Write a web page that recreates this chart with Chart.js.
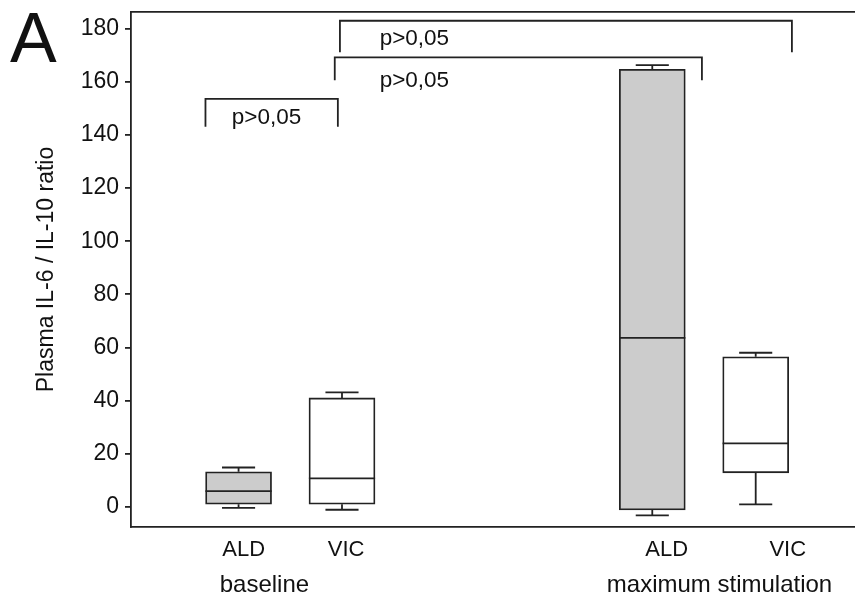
<!DOCTYPE html>
<html>
<head>
<meta charset="utf-8">
<script src="https://cdn.jsdelivr.net/npm/chart.js@4/dist/chart.umd.min.js"></script>
<style>
    html, body { margin: 0; padding: 0; background: #fff; }
</style>
</head>
<body>
<canvas id="chart" width="855" height="601"></canvas>
<script>
// box plot values
const cohorts = ["ALD", "VIC", "ALD", "VIC"];
const groups = ["baseline", "maximum stimulation"];
const boxPos = [1, 2, 5, 6];
const whiskerLow = [-0.4, -1.1, -3.2, 0.9];
const lowerQuartile = [1.0, 1.0, -1.2, 12.8];
const medians = [5.9, 10.7, 63.6, 23.9];
const upperQuartile = [13.2, 41.0, 164.7, 56.5];
const whiskerHigh = [14.8, 43.1, 166.3, 58.0];

// tick values
const cohortTicks = [1.05, 2.04, 5.14, 6.31];
const groupTicks = [1.25, 5.65];
const yTicks = [0, 20, 40, 60, 80, 100, 120, 140, 160, 180];

// significance brackets
const bracketFrom = [0.68, 1.93, 1.98];
const bracketTo = [1.96, 5.48, 6.35];
const bracketTop = [153.6, 169.2, 183.0];
const bracketFoot = [143.1, 160.6, 171.1];
const bracketText = ["p>0,05", "p>0,05", "p>0,05"];
const bracketTextX = [1.27, 2.70, 2.70];
const bracketTextY = [146.3, 160.4, 176.3];

const HALF_BOX = 0.32;
const HALF_CAP = 0.16;
const INK = "#222222";
const FONT = "'Liberation Sans', Arial, sans-serif";

const gap = x => ({ x: x, y: null });

const whiskerPoints = [];
const medianPoints = [];
boxPos.forEach((p, i) => {
    whiskerPoints.push(
        { x: p, y: upperQuartile[i] }, { x: p, y: whiskerHigh[i] }, gap(p),
        { x: p - HALF_CAP, y: whiskerHigh[i] }, { x: p + HALF_CAP, y: whiskerHigh[i] }, gap(p),
        { x: p, y: lowerQuartile[i] }, { x: p, y: whiskerLow[i] }, gap(p),
        { x: p - HALF_CAP, y: whiskerLow[i] }, { x: p + HALF_CAP, y: whiskerLow[i] }, gap(p)
    );
    medianPoints.push(
        { x: p - HALF_BOX, y: medians[i] }, { x: p + HALF_BOX, y: medians[i] }, gap(p)
    );
});

const bracketPoints = [];
bracketFrom.forEach((a, i) => {
    bracketPoints.push(
        { x: a, y: bracketFoot[i] },
        { x: a, y: bracketTop[i] },
        { x: bracketTo[i], y: bracketTop[i] },
        { x: bracketTo[i], y: bracketFoot[i] },
        gap(a)
    );
});

const lineStyle = {
    type: "line",
    borderColor: INK,
    borderWidth: 1.8,
    pointRadius: 0,
    fill: false,
    tension: 0,
    spanGaps: false,
    order: 0
};

const annotate = {
    id: "annotate",
    afterDatasetsDraw(chart) {
        const { ctx, scales } = chart;
        ctx.save();
        ctx.fillStyle = "#111";
        ctx.font = "22.5px " + FONT;
        ctx.textAlign = "center";
        ctx.textBaseline = "middle";
        bracketText.forEach((t, i) => {
            ctx.fillText(
                t,
                scales.x.getPixelForValue(bracketTextX[i]),
                scales.y.getPixelForValue(bracketTextY[i])
            );
        });
        ctx.font = "70px " + FONT;
        ctx.textAlign = "left";
        ctx.textBaseline = "alphabetic";
        ctx.fillText("A", 10, 62);
        ctx.restore();
    }
};

const xRange = { min: -0.04, max: 6.96 };

new Chart(document.getElementById("chart"), {
    type: "bar",
    data: {
        datasets: [
            {
                label: "box",
                data: boxPos.map((p, i) => ({ x: p, y: [lowerQuartile[i], upperQuartile[i]] })),
                backgroundColor: cohorts.map(c => c === "ALD" ? "#cccccc" : "#ffffff"),
                borderColor: INK,
                borderWidth: 1.8,
                borderSkipped: false,
                barThickness: 66,
                order: 1
            },
            Object.assign({ label: "whiskers", data: whiskerPoints }, lineStyle),
            Object.assign({ label: "medians", data: medianPoints }, lineStyle),
            Object.assign({ label: "brackets", data: bracketPoints }, lineStyle)
        ]
    },
    options: {
        responsive: false,
        animation: false,
        layout: { padding: 0 },
        plugins: {
            legend: { display: false },
            tooltip: { enabled: false }
        },
        scales: {
            x: {
                type: "linear",
                position: "bottom",
                min: xRange.min,
                max: xRange.max,
                offset: false,
                weight: 0,
                grid: { display: false, drawTicks: false, tickLength: 0, offset: false },
                border: { display: true, color: INK, width: 1.8 },
                afterBuildTicks: axis => { axis.ticks = cohortTicks.map(v => ({ value: v })); },
                afterFit: axis => {
                    axis.height = 38;
                    axis.paddingLeft = 0;
                    axis.paddingRight = 0;
                },
                ticks: {
                    autoSkip: false,
                    maxRotation: 0,
                    padding: 10,
                    color: "#111",
                    font: { family: FONT, size: 22 },
                    callback: (v, i) => cohorts[i]
                }
            },
            xGroup: {
                type: "linear",
                position: "bottom",
                min: xRange.min,
                max: xRange.max,
                offset: false,
                weight: 1,
                grid: { display: false, drawTicks: false, tickLength: 0 },
                border: { display: false },
                afterBuildTicks: axis => { axis.ticks = groupTicks.map(v => ({ value: v })); },
                afterFit: axis => {
                    axis.height = 36;
                    axis.paddingLeft = 0;
                    axis.paddingRight = 0;
                },
                ticks: {
                    autoSkip: false,
                    maxRotation: 0,
                    padding: 6,
                    color: "#111",
                    font: { family: FONT, size: 24 },
                    callback: (v, i) => groups[i]
                }
            },
            xTop: {
                type: "linear",
                position: "top",
                min: xRange.min,
                max: xRange.max,
                grid: { display: false, drawTicks: false, tickLength: 0 },
                border: { display: true, color: INK, width: 1.8 },
                ticks: { display: false },
                afterFit: axis => { axis.height = 12; }
            },
            y: {
                type: "linear",
                min: -7.6,
                max: 186.3,
                afterBuildTicks: axis => { axis.ticks = yTicks.map(v => ({ value: v })); },
                afterFit: axis => {
                    axis.width = 131;
                    axis.paddingTop = 0;
                    axis.paddingBottom = 0;
                },
                grid: {
                    drawOnChartArea: false,
                    drawTicks: true,
                    tickLength: 6,
                    color: INK,
                    lineWidth: 1.8
                },
                border: { display: true, color: INK, width: 1.8 },
                ticks: {
                    padding: 6,
                    color: "#111",
                    font: { family: FONT, size: 23 }
                },
                title: {
                    display: true,
                    text: "Plasma IL-6 / IL-10 ratio",
                    color: "#111",
                    font: { family: FONT, size: 23 },
                    padding: { top: 33, bottom: 0 }
                }
            }
        }
    },
    plugins: [annotate]
});
</script>
</body>
</html>
